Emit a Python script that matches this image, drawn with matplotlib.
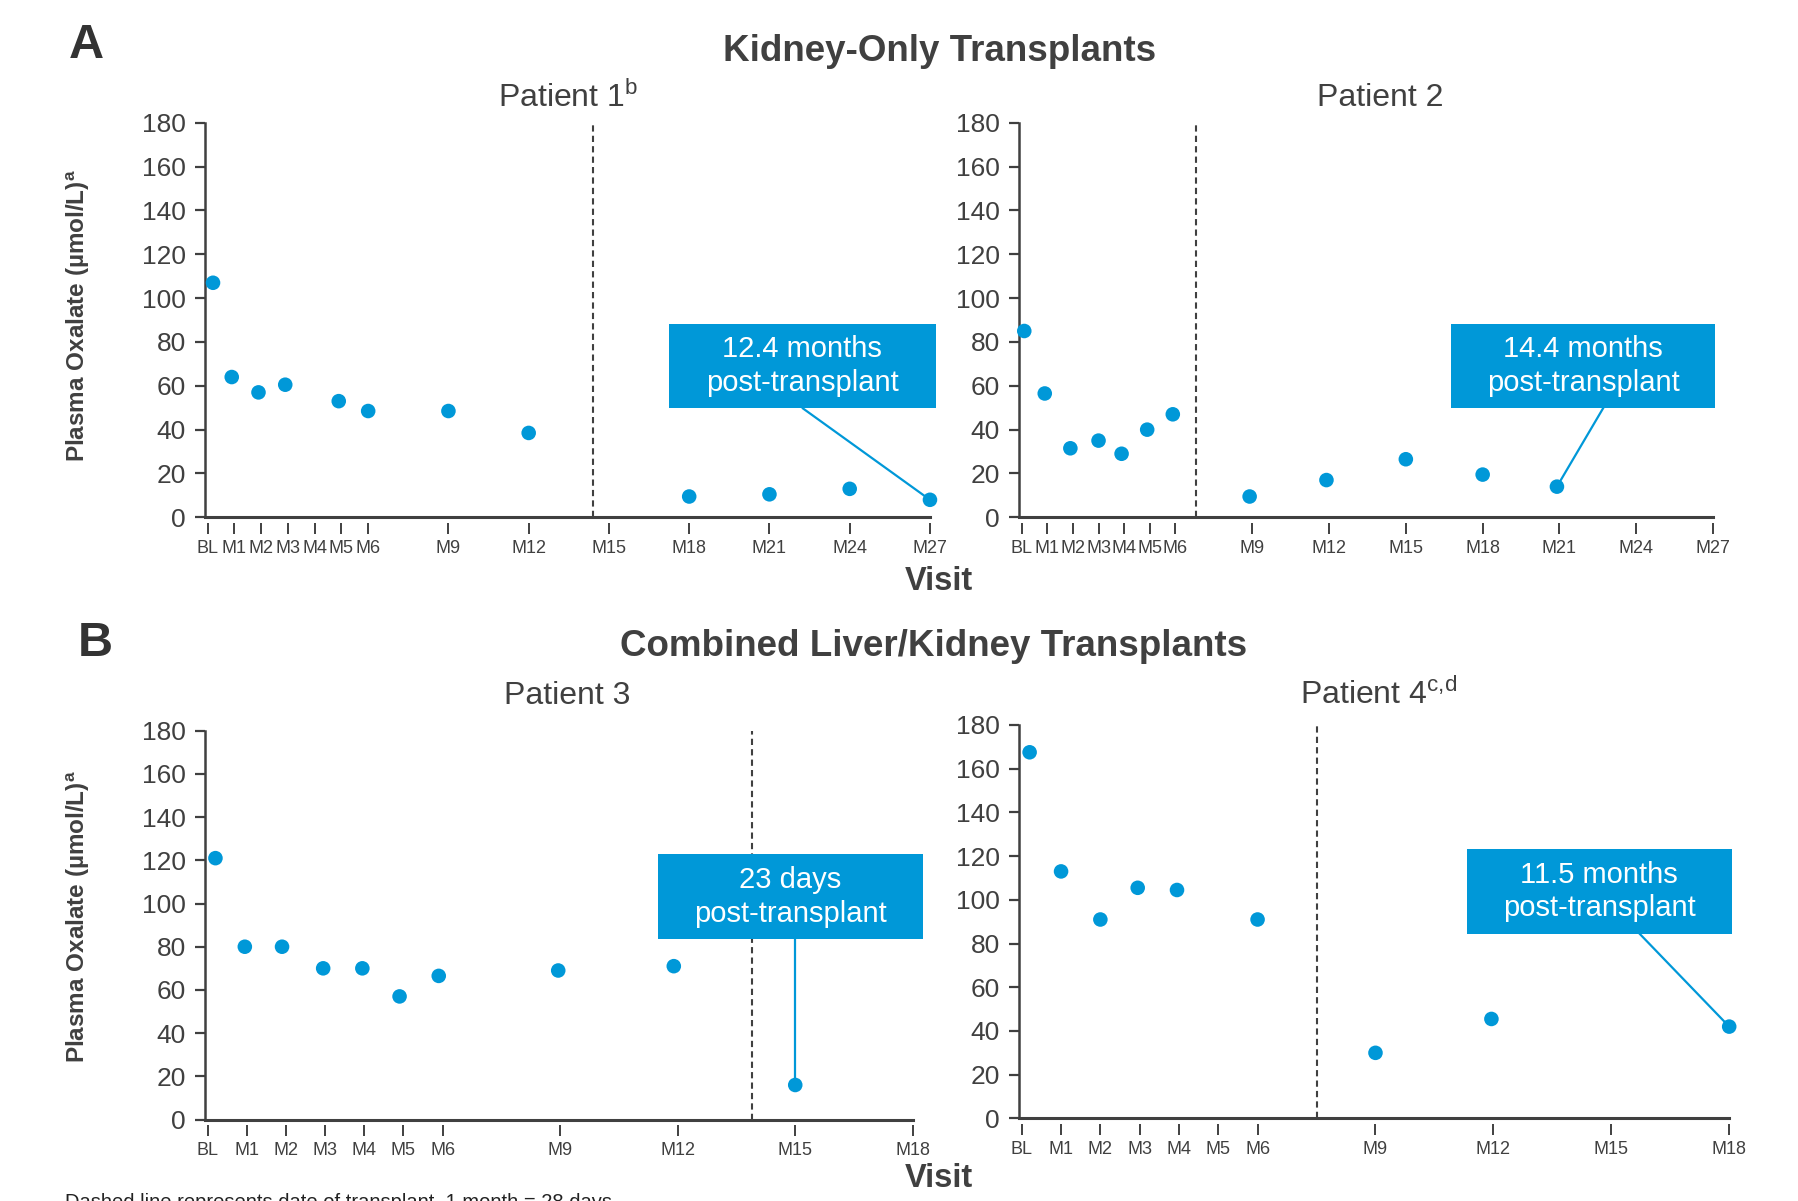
import numpy as np
import matplotlib
matplotlib.use("Agg")
from matplotlib import pyplot as plt
from matplotlib.patches import Rectangle

plt.rcParams['font.family'] = ['Liberation Sans', 'DejaVu Sans']
plt.rcParams['mathtext.fontset'] = 'custom'
plt.rcParams['mathtext.rm'] = 'Liberation Sans'
plt.rcParams['mathtext.bf'] = 'Liberation Sans:bold'

BLUE = '#0098D8'
GREY = '#404040'

# visit month (BL = 0) and plasma oxalate (umol/L) per patient
p1_month = [0.2, 0.9, 1.9, 2.9, 4.9, 6.0, 9.0, 12.0, 18.0, 21.0, 24.0, 27.0]
p1_oxalate = [107, 64, 57, 60.5, 53, 48.5, 48.5, 38.5, 9.5, 10.5, 13, 8]
p1_transplant = 14.4

p2_month = [0.1, 0.9, 1.9, 3.0, 3.9, 4.9, 5.9, 8.9, 11.9, 15.0, 18.0, 20.9]
p2_oxalate = [85, 56.5, 31.5, 35, 29, 40, 47, 9.5, 17, 26.5, 19.5, 14]
p2_transplant = 6.8

p3_month = [0.2, 0.95, 1.9, 2.95, 3.95, 4.9, 5.9, 8.95, 11.9, 15.0]
p3_oxalate = [121, 80, 80, 70, 70, 57, 66.5, 69, 71, 16]
p3_transplant = 13.9

p4_month = [0.2, 1.0, 2.0, 2.95, 3.95, 6.0, 9.0, 11.95, 18.0]
p4_oxalate = [167.5, 113, 91, 105.5, 104.5, 91, 30, 45.5, 42]
p4_transplant = 7.5

visits_27 = [0, 1, 2, 3, 4, 5, 6, 9, 12, 15, 18, 21, 24, 27]
visits_18 = [0, 1, 2, 3, 4, 5, 6, 9, 12, 15, 18]

notes = ['12.4 months\npost-transplant', '14.4 months\npost-transplant',
         '23 days\npost-transplant', '11.5 months\npost-transplant']

W, H = 1568, 1047


def pos(l, r, t, b):
    return [l / W, 1 - b / H, (r - l) / W, (b - t) / H]


def panel(rect, months, oxalate, tx, visits, xmax, note, box, anchor):
    ax = fig.add_axes(rect)
    ax.set_xlim(-0.09 * xmax / 27, xmax)
    ax.set_ylim(0, 180)
    for s in ['top', 'right']:
        ax.spines[s].set_visible(False)
    ax.spines['left'].set_color(GREY)
    ax.spines['left'].set_linewidth(1.8)
    # ticks sit a little below the axis line
    ax.spines['bottom'].set_position(('outward', 4))
    ax.spines['bottom'].set_visible(False)
    ax.axhline(0, color=GREY, lw=2.2, clip_on=False, zorder=2)

    ax.set_yticks(np.arange(0, 181, 20))
    ax.tick_params(axis='y', direction='out', length=7, width=1.6, color=GREY,
                   labelsize=19, labelcolor=GREY, pad=7)
    ax.set_xticks(visits)
    ax.set_xticklabels(['BL'] + ['M%d' % v for v in visits[1:]],
                       fontfamily=['Liberation Sans Narrow', 'Liberation Sans'])
    ax.tick_params(axis='x', direction='out', length=8, width=1.4, color=GREY,
                   labelsize=13, labelcolor=GREY, pad=4)

    ax.axvline(tx, color=GREY, lw=1.5, ls=(0, (3, 2)), zorder=1)
    ax.scatter(months, oxalate, s=110, color=BLUE, edgecolor='none',
               zorder=4, clip_on=False)

    # callout box with a leader line to the last visit
    x0, x1, y0, y1 = box
    ax.plot([anchor, months[-1]], [y0, oxalate[-1]], color=BLUE, lw=1.6,
            clip_on=False, zorder=3)
    ax.add_patch(Rectangle((x0, y0), x1 - x0, y1 - y0, facecolor=BLUE,
                           edgecolor='none', clip_on=False, zorder=5))
    ax.text((x0 + x1) / 2, (y0 + y1) / 2, note, ha='center', va='center',
            color='white', fontsize=21, linespacing=1.25, zorder=6)
    return ax


fig = plt.figure(figsize=(17.98, 12.01), dpi=100)

panel(pos(179, 811, 107, 451), p1_month, p1_oxalate, p1_transplant, visits_27, 27,
      notes[0], (17.23, 27.22, 49.7, 88.4), 22.25)
panel(pos(889, 1494, 107, 451), p2_month, p2_oxalate, p2_transplant, visits_27, 27,
      notes[1], (16.75, 27.09, 49.7, 88.4), 22.7)
panel(pos(179, 796, 637, 976), p3_month, p3_oxalate, p3_transplant, visits_18, 18,
      notes[2], (11.5, 18.26, 83.4, 122.7), 15.0)
panel(pos(889, 1508, 632, 975), p4_month, p4_oxalate, p4_transplant, visits_18, 18,
      notes[3], (11.32, 18.06, 84.5, 123.3), 15.72)

ylab = 'Plasma Oxalate (µmol/L)' + r'$^{\mathbf{a}}$'
fig.text(68 / W, 1 - 275 / H, ylab, rotation=90, ha='center', va='center',
         fontsize=17.5, fontweight='bold', color=GREY)
fig.text(68 / W, 1 - 799 / H, ylab, rotation=90, ha='center', va='center',
         fontsize=17.5, fontweight='bold', color=GREY)

fig.text(75 / W, 1 - 40 / H, 'A', ha='center', va='center', fontsize=35,
         fontweight='bold', color='#333333')
fig.text(83 / W, 1 - 561 / H, 'B', ha='center', va='center', fontsize=35,
         fontweight='bold', color='#333333')
fig.text(819 / W, 1 - 45 / H, 'Kidney-Only Transplants', ha='center', va='center',
         fontsize=26.5, fontweight='bold', color=GREY)
fig.text(814 / W, 1 - 564 / H, 'Combined Liver/Kidney Transplants', ha='center',
         va='center', fontsize=26.5, fontweight='bold', color=GREY)
fig.text(819 / W, 1 - 507 / H, 'Visit', ha='center', va='center', fontsize=23.5,
         fontweight='bold', color=GREY)
fig.text(819 / W, 1 - 1027 / H, 'Visit', ha='center', va='center', fontsize=23.5,
         fontweight='bold', color=GREY)

fig.text(495 / W, 1 - 85 / H, r'Patient 1$^{\mathrm{b}}$', ha='center', va='center',
         fontsize=23, color=GREY)
fig.text(1204 / W, 1 - 85 / H, 'Patient 2', ha='center', va='center',
         fontsize=23, color=GREY)
fig.text(495 / W, 1 - 607 / H, 'Patient 3', ha='center', va='center',
         fontsize=23, color=GREY)
fig.text(1202 / W, 1 - 606 / H, r'Patient 4$^{\mathrm{c{,}d}}$', ha='center',
         va='center', fontsize=23, color=GREY)

fig.text(57 / W, 1 - 1040 / H,
         'Dashed line represents date of transplant. 1 month = 28 days.',
         ha='left', va='top', fontsize=14.5, color='#222222')

fig.savefig('out.png', dpi=100)
